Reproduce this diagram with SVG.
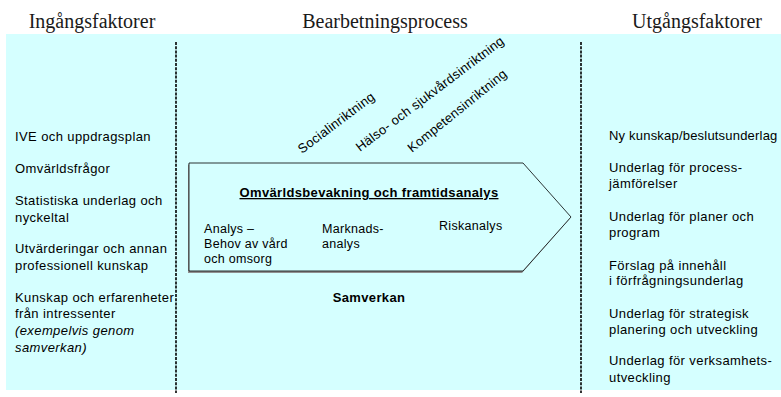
<svg xmlns="http://www.w3.org/2000/svg" width="781" height="397" viewBox="0 0 781 397">
<style>
.hdr{font-family:"Liberation Serif",serif;font-size:20px;fill:#1a1a1a;text-anchor:middle}
.t{font-family:"Liberation Sans",Arial,sans-serif;font-size:13px;fill:#000;letter-spacing:0.4px}
.ti{font-family:"Liberation Sans",Arial,sans-serif;font-size:13px;fill:#000;font-style:italic;letter-spacing:0.4px}
.b{font-family:"Liberation Sans",Arial,sans-serif;font-size:12.5px;fill:#000;letter-spacing:0.3px}
.bb{font-family:"Liberation Sans",Arial,sans-serif;font-size:13px;fill:#000;font-weight:bold;text-anchor:middle;letter-spacing:0.35px}
.r{font-family:"Liberation Sans",Arial,sans-serif;font-size:13px;fill:#000;letter-spacing:0.3px}
.dash{stroke:#000;stroke-width:1.6;stroke-dasharray:3 1.2;fill:none}
</style>
<rect id="background" x="6" y="34" width="775" height="356" fill="#D5FFFF"/>
<g id="headers">
<text class="hdr" x="92" y="28">Ingångsfaktorer</text>
<text class="hdr" x="385" y="28">Bearbetningsprocess</text>
<text class="hdr" x="697" y="28">Utgångsfaktorer</text>
</g>
<g id="connectors">
<line class="dash" x1="176" y1="42" x2="176" y2="393"/>
<line class="dash" x1="581" y1="42" x2="581" y2="393"/>
</g>
<g id="inputs">
<text class="t" x="15" y="141">IVE och uppdragsplan</text>
<text class="t" x="15" y="173">Omvärldsfrågor</text>
<text class="t" x="15" y="205">Statistiska underlag och</text>
<text class="t" x="15" y="222">nyckeltal</text>
<text class="t" x="15" y="253">Utvärderingar och annan</text>
<text class="t" x="15" y="270">professionell kunskap</text>
<text class="t" x="15" y="302">Kunskap och erfarenheter</text>
<text class="t" x="15" y="318">från intressenter</text>
<text class="ti" x="15" y="335">(exempelvis genom</text>
<text class="ti" x="15" y="352">samverkan)</text>
</g>
<g id="orientations">
<text class="r" transform="translate(302,154) rotate(-37)">Socialinriktning</text>
<text class="r" transform="translate(360,152) rotate(-37)">Hälso- och sjukvårdsinriktning</text>
<text class="r" transform="translate(412,153) rotate(-39)">Kompetensinriktning</text>
</g>
<g id="process-arrow">
<polygon points="188,164.5 522,164.5 570,218.5 522,273 188,273" fill="#909090"/>
<polygon points="189,163 523,163 571,217 523,271 189,271" fill="#D5FFFF" stroke="#000" stroke-width="0.8"/>
<text class="bb" x="369" y="197" text-decoration="underline">Omvärldsbevakning och framtidsanalys</text>
<text class="b" x="204" y="233">Analys –</text>
<text class="b" x="204" y="248">Behov av vård</text>
<text class="b" x="204" y="263">och omsorg</text>
<text class="b" x="322" y="233">Marknads-</text>
<text class="b" x="322" y="248">analys</text>
<text class="b" x="439" y="230">Riskanalys</text>
</g>
<g id="samverkan">
<text class="bb" x="369" y="302">Samverkan</text>
</g>
<g id="outputs">
<text class="t" x="609" y="140" style="letter-spacing:0.2px">Ny kunskap/beslutsunderlag</text>
<text class="t" x="609" y="172">Underlag för process-</text>
<text class="t" x="609" y="188">jämförelser</text>
<text class="t" x="609" y="221">Underlag för planer och</text>
<text class="t" x="609" y="237">program</text>
<text class="t" x="609" y="270">Förslag på innehåll</text>
<text class="t" x="609" y="285">i förfrågningsunderlag</text>
<text class="t" x="609" y="318">Underlag för strategisk</text>
<text class="t" x="609" y="334">planering och utveckling</text>
<text class="t" x="609" y="365">Underlag för verksamhets-</text>
<text class="t" x="609" y="382">utveckling</text>
</g>
</svg>
